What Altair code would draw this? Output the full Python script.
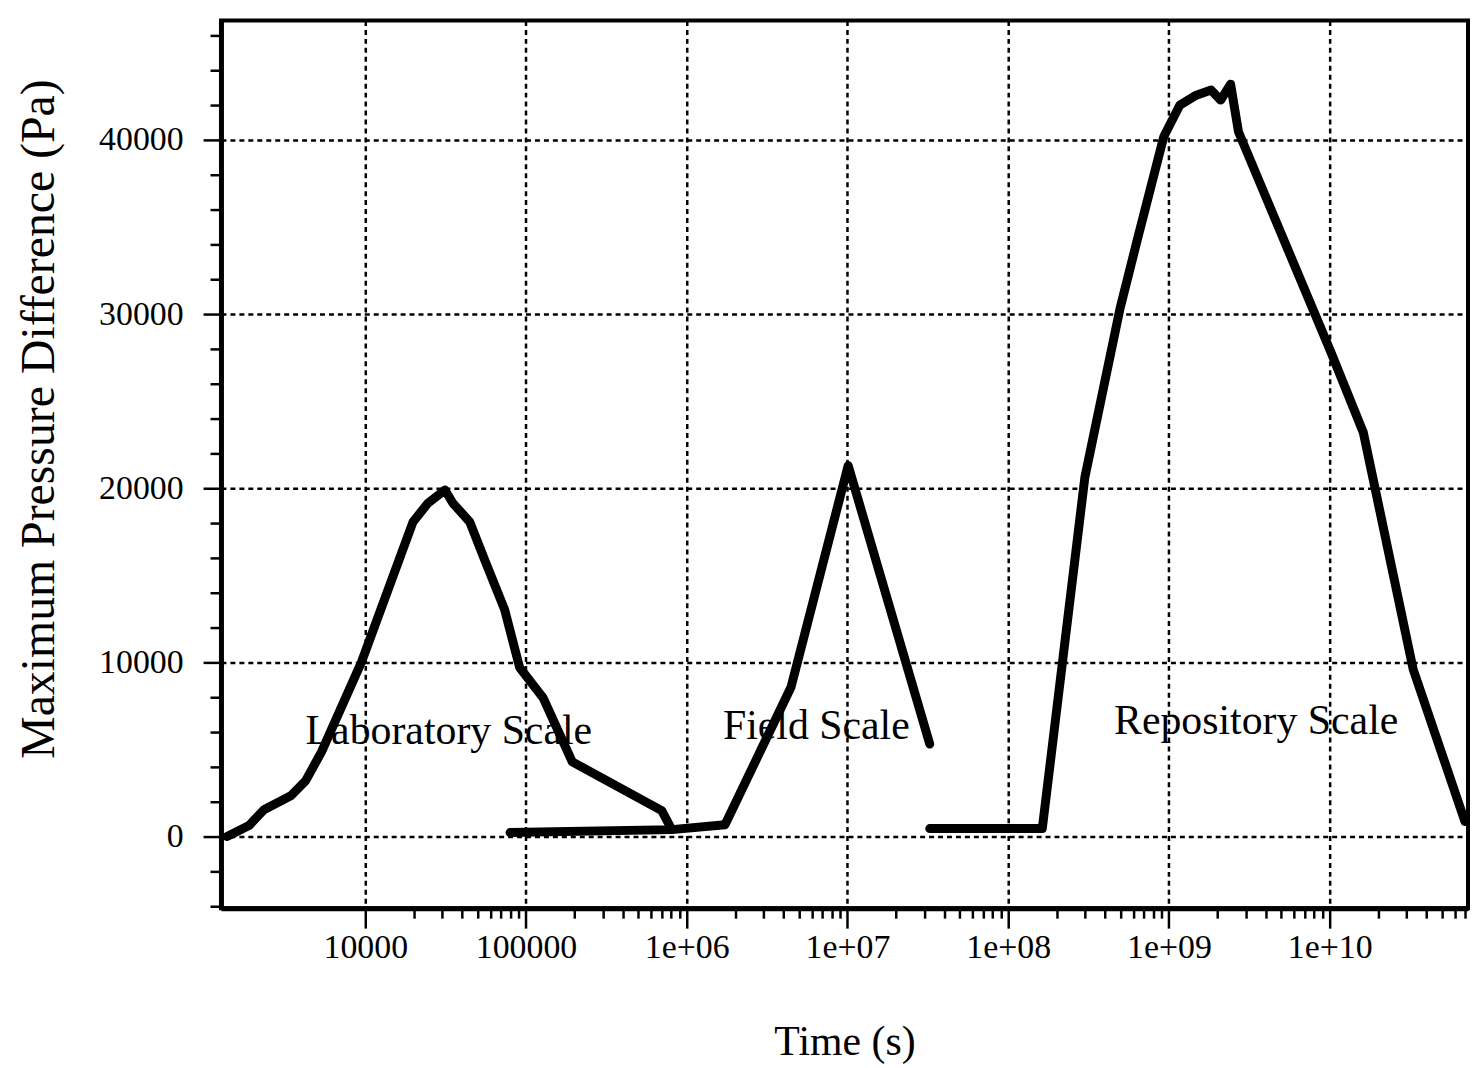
import altair as alt
import pandas as pd
import json

# ---- data ----
lab_t = [1380, 1890, 2340, 3440, 4250, 5340, 9450, 19800, 24500, 31300, 35100,
         44700, 55300, 73600, 91200, 128000, 194000, 699000, 807000]
lab_p = [0, 630, 1540, 2340, 3200, 4860, 10000, 18060, 19140, 19900, 19140,
         18060, 15890, 13030, 9710, 7950, 4290, 1490, 400]

field_t = [79600, 807000, 1.73e6, 4.45e6, 1.01e7, 3.25e7]
field_p = [230, 400, 680, 8570, 21300, 5310]

repo_t = [3.25e7, 1.63e8, 3.0e8, 4.97e8, 6.32e8, 9.3e8, 1.17e9, 1.48e9, 1.83e9,
          2.1e9, 2.42e9, 2.71e9, 1.01e10, 1.62e10, 3.31e10, 6.95e10]
repo_p = [460, 460, 20630, 30340, 34170, 40200, 42000, 42570, 42860, 42290,
          43200, 40460, 27890, 23200, 9600, 860]

label_text = ["Laboratory Scale", "Field Scale", "Repository Scale"]
label_t = [33100, 6.4e6, 3.49e9]
label_p = [5300, 5600, 5900]

x_major = [1e4, 1e5, 1e6, 1e7, 1e8, 1e9, 1e10]
x_tick_labels = ["10000", "100000", "1e+06", "1e+07", "1e+08", "1e+09", "1e+10"]
x_minor = [m * d for d in [1e4, 1e5, 1e6, 1e7, 1e8, 1e9, 1e10] for m in range(2, 10)
           if m * d < 7.2e10]
y_ticks = list(range(-4000, 46001, 2000))

rows = []
for name, ts, ps in [("Laboratory", lab_t, lab_p), ("Field", field_t, field_p),
                     ("Repository", repo_t, repo_p)]:
    for i, (t, p) in enumerate(zip(ts, ps)):
        rows.append({"series": name, "t": t, "p": p, "order": i})
df = pd.DataFrame(rows)
labels_df = pd.DataFrame({"t": label_t, "p": label_p, "text": label_text})

FONT = "Liberation Serif"
W, H = 1253, 892

x_major_test = "abs(log(datum.value)/LN10 - round(log(datum.value)/LN10)) < 0.001"
y_major_test = "datum.value % 10000 == 0 && datum.value >= 0 && datum.value <= 40000"

x_scale = alt.Scale(type="log", domain=[1265, 7.26e10], nice=False)
y_scale = alt.Scale(domain=[-4114, 46857], nice=False, zero=False)

x_axis = alt.Axis(
    values=sorted(x_major + x_minor), tickCount=500,
    labelExpr=f"{x_major_test} ? {json.dumps(x_tick_labels)}[round(log(datum.value)/LN10) - 4] : ''",
    tickSize={"condition": {"test": x_major_test, "value": 20}, "value": 10},
    tickWidth=2.5, tickColor="black",
    domainColor="black", domainWidth=5,
    grid=True, gridColor="black", gridWidth=2.5, gridDash=[5, 4],
    gridOpacity={"condition": {"test": x_major_test, "value": 1}, "value": 0},
    labelFont=FONT, labelFontSize=34, labelColor="black", labelPadding=3,
    labelOverlap=False, labelFlush=False, labelBound=False,
    title="Time (s)", titleFont=FONT, titleFontSize=42, titleFontWeight="normal",
    titleColor="black", titlePadding=57,
)
y_axis = alt.Axis(
    values=y_ticks, tickCount=500,
    labelExpr=f"{y_major_test} ? format(datum.value, 'd') : ''",
    tickSize={"condition": {"test": y_major_test, "value": 18}, "value": 11},
    tickWidth=2.5, tickColor="black",
    domainColor="black", domainWidth=5,
    grid=True, gridColor="black", gridWidth=2.5, gridDash=[5, 4],
    gridOpacity={"condition": {"test": y_major_test, "value": 1}, "value": 0},
    labelFont=FONT, labelFontSize=34, labelColor="black", labelPadding=20,
    labelOverlap=False, labelFlush=False, labelBound=False,
    title="Maximum Pressure Difference (Pa)", titleFont=FONT, titleFontSize=48,
    titleFontWeight="normal", titleColor="black", titlePadding=35, titleY=400,
)

lines = alt.Chart(df).mark_line(
    color="black", strokeWidth=9, strokeCap="round", strokeJoin="round"
).encode(
    x=alt.X("t:Q", scale=x_scale, axis=x_axis),
    y=alt.Y("p:Q", scale=y_scale, axis=y_axis),
    detail="series:N",
    order="order:Q",
)

texts = alt.Chart(labels_df).mark_text(
    font=FONT, fontSize=42, color="black", align="center", baseline="alphabetic"
).encode(
    x=alt.X("t:Q", scale=x_scale),
    y=alt.Y("p:Q", scale=y_scale),
    text="text:N",
)

chart = alt.layer(lines, texts).properties(
    width=W, height=H,
    autosize=alt.AutoSizeParams(type="none"),
    padding={"left": 214, "top": 10, "right": 2, "bottom": 156},
    background="white",
).configure_view(stroke="black", strokeWidth=4)

chart.save("out.html", embed_options={"renderer": "svg", "actions": False})
